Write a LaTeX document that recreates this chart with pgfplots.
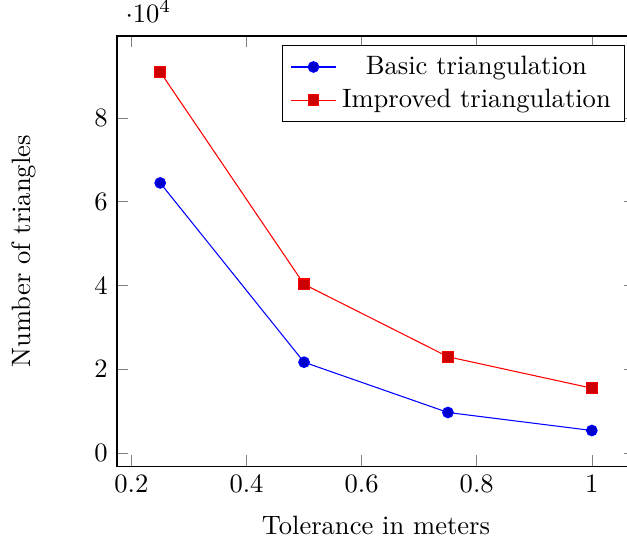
\documentclass[border=0pt]{standalone}
\usepackage{pgfplots}
\pgfplotsset{compat=1.18}
\begin{document}
\begin{tikzpicture}
\begin{axis}[
  xlabel={Tolerance in meters},
  ylabel={Number of triangles},
  ylabel shift=15pt,
  xlabel shift=2pt,
]
\addplot coordinates {(0.25,64500) (0.5,21700) (0.75,9700) (1,5400)};
\addlegendentry{Basic triangulation}
\addplot coordinates {(0.25,91000) (0.5,40300) (0.75,23000) (1,15500)};
\addlegendentry{Improved triangulation}
\coordinate (bl) at (rel axis cs:-0.2259,-0.1767);
\coordinate (tr) at (rel axis cs:0.9846,1.0837);
\end{axis}
\pgfresetboundingbox
\path[use as bounding box] (bl) rectangle (tr);
\end{tikzpicture}
\end{document}
